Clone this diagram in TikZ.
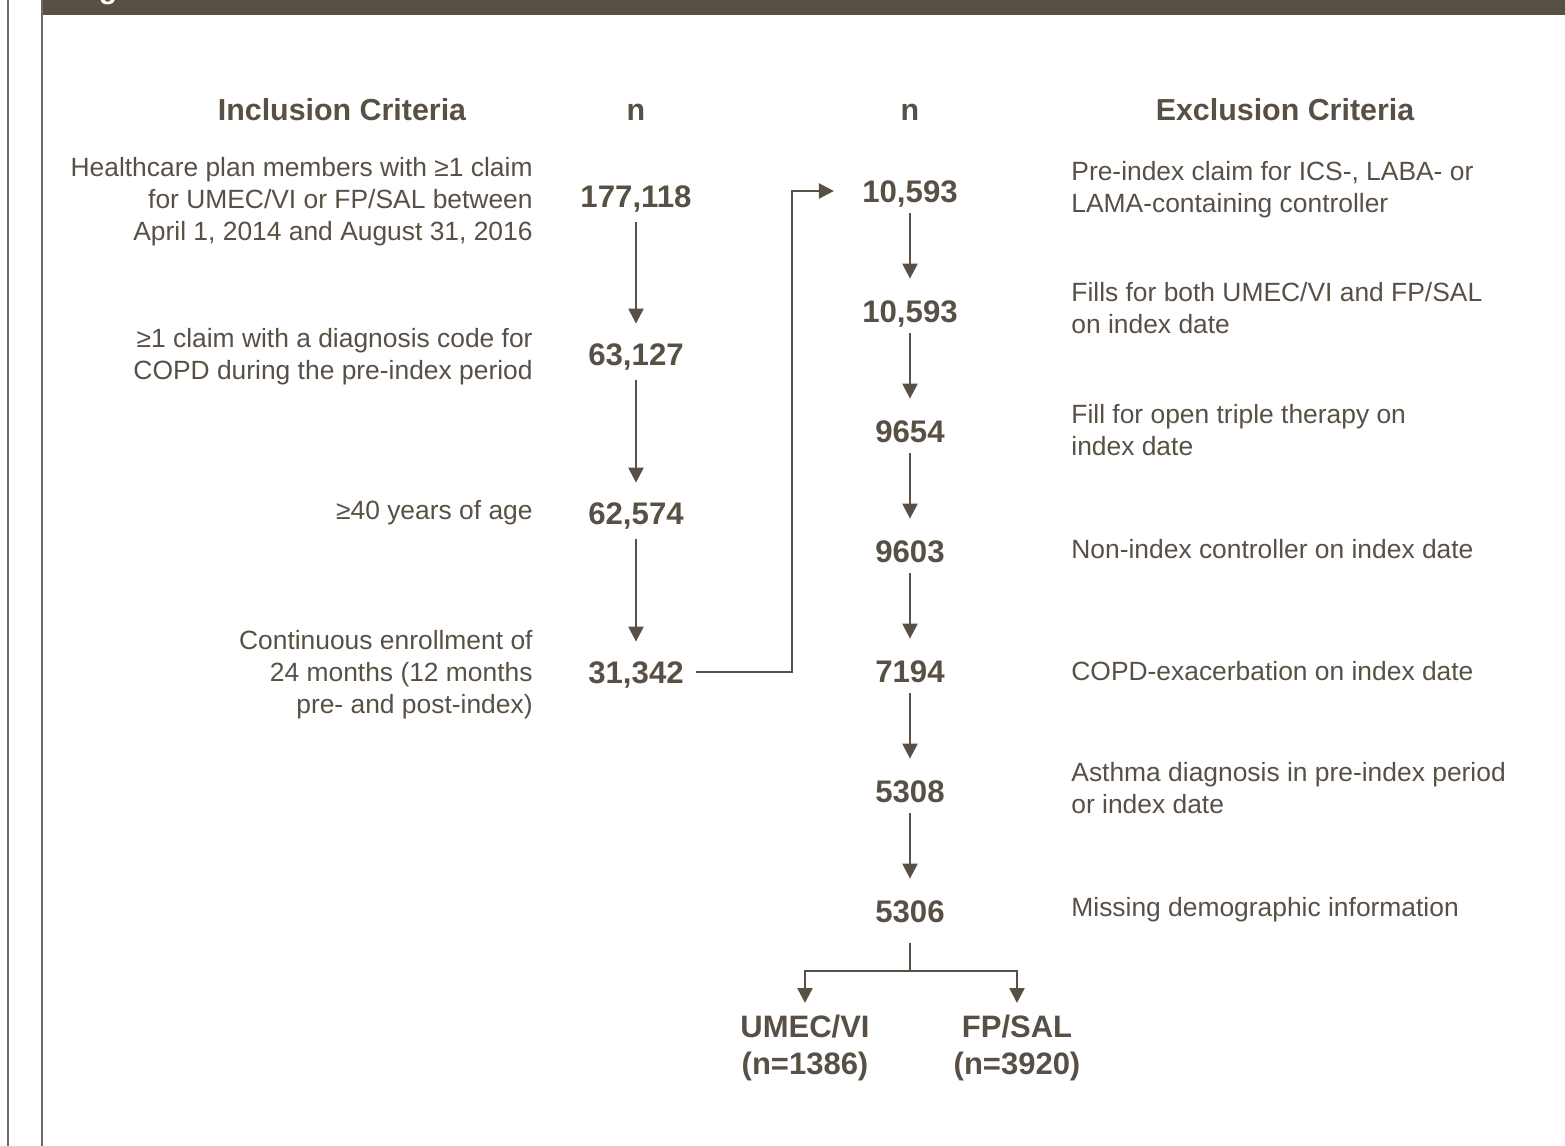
\documentclass[tikz,border=0pt]{standalone}
\usepackage{fontspec}
\setmainfont{Liberation Sans}
\usetikzlibrary{arrows.meta, positioning}
\definecolor{ink}{RGB}{89,80,69}
\definecolor{frame}{RGB}{112,106,96}

\begin{document}
\begin{tikzpicture}[
  x=0.5pt, y=-0.5pt,
  every node/.style={text=ink, inner sep=0pt},
  head/.style={font=\bfseries\fontsize{15.2}{18}\selectfont, anchor=base},
  count/.style={font=\bfseries\fontsize{15.6}{18}\selectfont, text height=11pt, text depth=0pt},
  incl/.style={font=\fontsize{13.2}{16}\selectfont, align=right, anchor=east},
  excl/.style={font=\fontsize{13.2}{16}\selectfont, align=left, anchor=west},
  arm/.style={font=\bfseries\fontsize{15.5}{18.5}\selectfont, align=center, anchor=north},
  link/.style={draw=ink, line width=1.2pt},
  flow/.style={link, -{Triangle[length=7.5pt, width=7.5pt]}},
  leftflow/.style={flow, shorten <=7.5pt, shorten >=9.5pt},
  rightflow/.style={flow, shorten <=5.5pt, shorten >=10.5pt}
]
\useasboundingbox (0,0) rectangle (1565,1146);

% frame and title bar
\fill[ink] (42,0) rectangle (1565,15);
\draw[frame, line width=1pt] (8,0) -- (8,1146);
\draw[frame, line width=1pt] (42,0) -- (42,1146);
\node[text=white, font=\bfseries\fontsize{15}{18}\selectfont, anchor=base] (title) at (108,-1.5) {g};

% headings
\node[head] (inchead) at (342,120) {Inclusion Criteria};
\node[head] (nleft) at (636,120) {n};
\node[head] (nright) at (910,120) {n};
\node[head] (exchead) at (1285,120) {Exclusion Criteria};

% inclusion side
\node[incl] (i1) at (533,202) {Healthcare plan members with ≥1 claim\\for UMEC/VI or FP/SAL between\\April 1, 2014 and August 31, 2016};
\node[incl] (i2) at (533,357) {≥1 claim with a diagnosis code for\\COPD during the pre-index period};
\node[incl] (i3) at (533,513) {≥40 years of age};
\node[incl] (i4) at (533,675) {Continuous enrollment of\\24 months (12 months\\pre- and post-index)};

\node[count] (n1) at (636,196) {177,118};
\node[count] (n2) at (636,354) {63,127};
\node[count] (n3) at (636,513) {62,574};
\node[count] (n4) at (636,672) {31,342};

\draw[leftflow] (n1) -- (n2);
\draw[leftflow] (n2) -- (n3);
\draw[leftflow] (n3) -- (n4);

% exclusion side
\node[count] (r1) at (910,191) {10,593};
\node[count] (r2) at (910,311) {10,593};
\node[count] (r3) at (910,431) {9654};
\node[count] (r4) at (910,551) {9603};
\node[count] (r5) at (910,671) {7194};
\node[count] (r6) at (910,791) {5308};
\node[count] (r7) at (910,911) {5306};

\node[excl] (e1) at (1071,190) {Pre-index claim for ICS-, LABA- or\\LAMA-containing controller};
\node[excl] (e2) at (1071,308) {Fills for both UMEC/VI and FP/SAL\\on index date};
\node[excl] (e3) at (1071,430) {Fill for open triple therapy on\\index date};
\node[excl] (e4) at (1071,549) {Non-index controller on index date};
\node[excl] (e5) at (1071,671) {COPD-exacerbation on index date};
\node[excl] (e6) at (1071,788) {Asthma diagnosis in pre-index period\\or index date};
\node[excl] (e7) at (1071,910) {Missing demographic information};

\coordinate (jog) at (792,672);
\draw[flow, shorten <=6pt, shorten >=14pt] (n4.east) -- (jog) |- (r1.west);

\draw[rightflow] (r1) -- (r2);
\draw[rightflow] (r2) -- (r3);
\draw[rightflow] (r3) -- (r4);
\draw[rightflow] (r4) -- (r5);
\draw[rightflow] (r5) -- (r6);
\draw[rightflow] (r6) -- (r7);

% split into the two arms
\node[arm] (umec) at (805,1015) {UMEC/VI\\(n=1386)};
\node[arm] (fpsal) at (1017,1015) {FP/SAL\\(n=3920)};
\coordinate (split) at (910,971);
\draw[link, shorten <=10.5pt] (r7) -- (split);
\draw[flow, shorten >=6pt] (split) -| (umec);
\draw[flow, shorten >=6pt] (split) -| (fpsal);
\end{tikzpicture}
\end{document}
